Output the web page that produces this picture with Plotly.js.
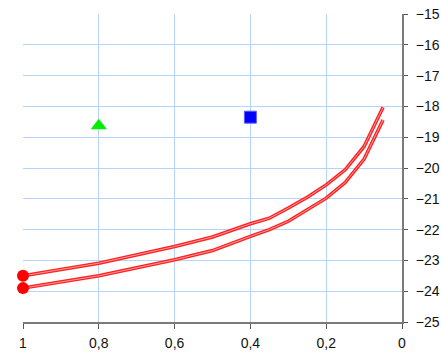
<!DOCTYPE html>
<html>
<head>
<meta charset="utf-8">
<script src="https://cdn.plot.ly/plotly-3.0.1.min.js"></script>
<style>html,body{margin:0;padding:0;background:#fff;}#chart{width:441px;height:353px;}</style>
</head>
<body>
<div id="chart"></div>
<script>
const xVals = [1, 0.8, 0.6, 0.5, 0.4, 0.35, 0.3, 0.25, 0.2, 0.15, 0.1, 0.05];
const upperY = [-23.5, -23.09, -22.55, -22.24, -21.81, -21.63, -21.3, -20.95, -20.55, -20.06, -19.3, -18.03];
const lowerY = [-23.9, -23.5, -22.98, -22.68, -22.22, -22.0, -21.73, -21.36, -20.98, -20.47, -19.71, -18.44];
const startX = [1, 1];
const startY = [-23.5, -23.9];
const triangleX = [0.8];
const triangleY = [-18.63];
const squareX = [0.4];
const squareY = [-18.35];
const xTicks = [1, 0.8, 0.6, 0.4, 0.2, 0];
const yTicks = [-25, -24, -23, -22, -21, -20, -19, -18, -17, -16, -15];

function curve(y, color, width) {
  return {x: xVals, y: y, mode: 'lines', line: {color: color, width: width}, hoverinfo: 'skip', showlegend: false, cliponaxis: false};
}
const traces = [
  curve(upperY, '#ff2020', 3.5),
  curve(upperY, '#ff9c9c', 1),
  curve(lowerY, '#ff2020', 3.5),
  curve(lowerY, '#ff9c9c', 1),
  {x: startX, y: startY, mode: 'markers', marker: {color: '#ff0000', size: 12, symbol: 'circle'}, showlegend: false, cliponaxis: false},
  {x: triangleX, y: triangleY, mode: 'markers', marker: {color: '#00ee00', size: 14, symbol: 'triangle-up'}, showlegend: false, cliponaxis: false},
  {x: squareX, y: squareY, mode: 'markers', marker: {color: '#0000ff', size: 12, symbol: 'square', line: {color: '#6060ff', width: 1}}, showlegend: false, cliponaxis: false}
];
const layout = {
  width: 441, height: 353,
  margin: {l: 23, r: 39, t: 14, b: 31},
  paper_bgcolor: '#fff', plot_bgcolor: '#fff',
  separators: ',.',
  showlegend: false,
  font: {family: 'Liberation Sans, Arial, sans-serif', size: 14, color: '#111'},
  xaxis: {
    range: [1, 0], tickvals: xTicks, ticktext: xTicks.map(v => String(v).replace('.', ',')),
    showgrid: true, gridcolor: '#b4d4fa', gridwidth: 1, zeroline: false,
    showline: true, linecolor: '#7a7a7a', linewidth: 2,
    ticks: 'outside', ticklen: 5, tickcolor: '#555', tickwidth: 1,
    ticklabelstandoff: 2
  },
  yaxis: {
    side: 'right', range: [-25, -15], tickvals: yTicks,
    showgrid: true, gridcolor: '#b4d4fa', gridwidth: 1, zeroline: false,
    showline: true, linecolor: '#7a7a7a', linewidth: 2,
    ticks: 'outside', ticklen: 4, tickcolor: '#555', tickwidth: 1,
    ticklabelstandoff: 5
  }
};
Plotly.newPlot('chart', traces, layout, {displayModeBar: false, staticPlot: true});
</script>
</body>
</html>
